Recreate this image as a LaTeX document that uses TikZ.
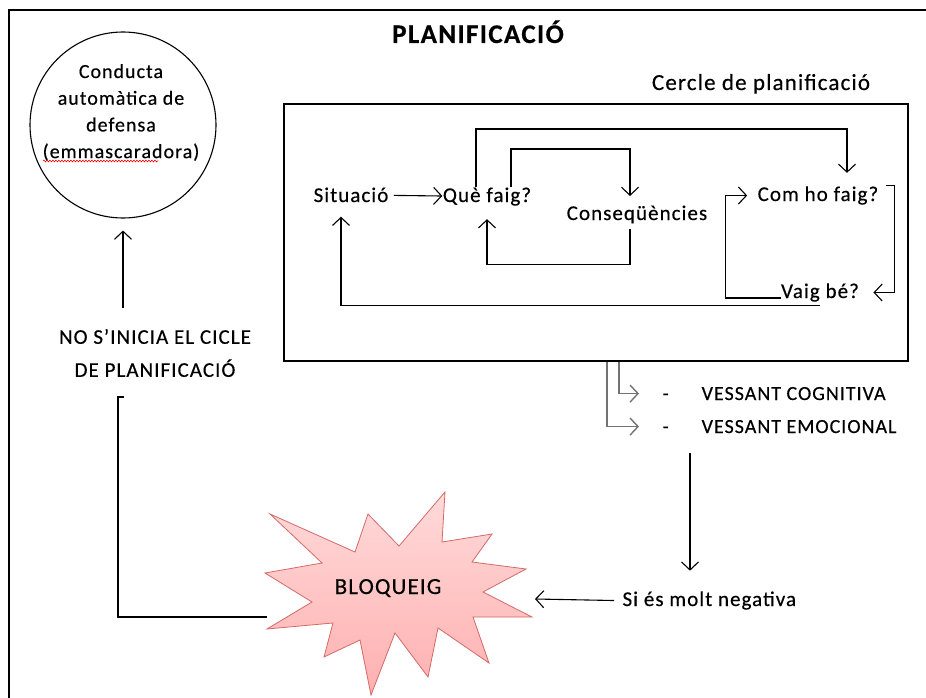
\documentclass[tikz,border=0pt]{standalone}
\usepackage{fontspec}
\setmainfont{Carlito}[LetterSpace=5,FakeBold=0.4]
\usetikzlibrary{arrows.meta,decorations.pathmorphing}
\definecolor{rosaclar}{RGB}{255,218,218}
\definecolor{rosafosc}{RGB}{255,176,176}
\definecolor{voraestel}{RGB}{212,106,104}
\begin{document}
\begin{tikzpicture}[x=1pt,y=-1pt,line width=1.1pt,
    fl/.style={-{Straight Barb[length=8pt,width=17pt]}},
    txt/.style={inner sep=0pt,anchor=base,font=\fontsize{21}{25}\selectfont},
    gris/.style={draw=black!55,line width=1.4pt}]
    \useasboundingbox (0,0) rectangle (926,698);
    \draw (9,698) -- (9,10) -- (926,10);

    \node[txt,font=\fontsize{27}{30}\bfseries] (titol) at (478,43) {PLANIFICACIÓ};
    \node[draw,circle,minimum size=186pt,inner sep=0pt] (defensa) at (123,125) {};
    \node[inner sep=0pt,align=center,font=\fontsize{20}{26.7}\selectfont] (defensatxt) at (121,112.5)
        {Conducta\\automàtica de\\defensa\\(emmascaradora)};
    \draw[red,line width=0.6pt,decorate,decoration={snake,amplitude=0.9pt,segment length=3pt}]
        (43,161) -- (158,161);

    \node[txt,font=\fontsize{23}{27}\selectfont] (cerclelbl) at (761,90) {Cercle de planificació};
    \node[draw,minimum width=624pt,minimum height=257pt,inner sep=0pt] (cercle) at (596,232.5) {};
    \node[txt] (sit) at (351,202) {Situació};
    \node[txt] (que) at (487,202) {Què faig?};
    \node[txt] (cons) at (637,220) {Conseqüències};
    \node[txt] (com) at (818,201) {Com ho faig?};
    \node[txt] (vaig) at (820,298) {Vaig bé?};

    \draw[fl,shorten <=5pt] (sit) -- (que);
    \draw[fl] ([xshift=-11pt]que.north) -- ++(0,-58) -| ([xshift=29pt,yshift=13pt]com.north);
    \draw[fl] ([xshift=24pt]que.north) -- ++(0,-38) -| ([xshift=-7pt,yshift=9pt]cons.north);
    \draw[fl] ([xshift=-7pt,yshift=-5pt]cons.south) -- ++(0,36) -| ([yshift=-13pt]que.south);
    \draw[fl] ([xshift=7pt]com.north east) -- ++(9,0) |- ([xshift=14pt]vaig.east);
    \draw[fl] (vaig.base west) -- ++(-55,0) |- ([xshift=-10pt]com.west);
    \draw[fl] ([yshift=-3pt]vaig.south) -| ([xshift=-10pt,yshift=-14pt]sit.south);

    \node[txt,anchor=base west,font=\fontsize{20}{24}\selectfont] (cog) at (662,400)
        {-\hspace{33pt}VESSANT COGNITIVA};
    \node[txt,anchor=base west,font=\fontsize{20}{24}\selectfont] (emo) at (662,433)
        {-\hspace{33pt}VESSANT EMOCIONAL};
    \draw[fl,gris] ([xshift=23pt]cercle.south) |- ([xshift=-23pt]cog.west);
    \draw[fl,gris] ([xshift=11pt]cercle.south) |- ([xshift=-23pt]emo.west);
    \draw[fl] ([xshift=28pt,yshift=-19pt]emo.south west) -- ++(0,118);

    \node[txt,anchor=base west] (neg) at (622,606) {Si és molt negativa};
    \coordinate (bloqe) at (535,599);
    \draw[fl] ([xshift=-8pt]neg.west) -- (bloqe);

    \draw[voraestel,top color=rosaclar,bottom color=rosafosc,line width=0.8pt]
        (270,514) -- (355,552) -- (368,514) -- (399,546) -- (445,492) -- (442,542)
        -- (492,534) -- (472,562) -- (526,569) -- (483,592) -- (532,617) -- (473,617)
        -- (489,663) -- (438,628) -- (428,677) -- (395,633) -- (371,695) -- (360,640)
        -- (324,657) -- (333,623) -- (267,629) -- (312,602) -- (265,573) -- (322,563) -- cycle;
    \node[txt,font=\fontsize{23}{27}\selectfont] (bloq) at (388,594) {BLOQUEIG};
    \coordinate (bloqw) at (267,617);
    \draw (bloqw) -- ++(-149,0) -- ++(0,-220) -- ++(6,0);

    \node[inner sep=0pt,align=center,font=\fontsize{21}{33}\selectfont] (nosi) at (155,353)
        {NO S’INICIA EL CICLE\\DE PLANIFICACIÓ};
    \draw[fl] ([yshift=20pt]defensa.south |- nosi.north) -- ([yshift=-12pt]defensa.south);
\end{tikzpicture}
\end{document}
